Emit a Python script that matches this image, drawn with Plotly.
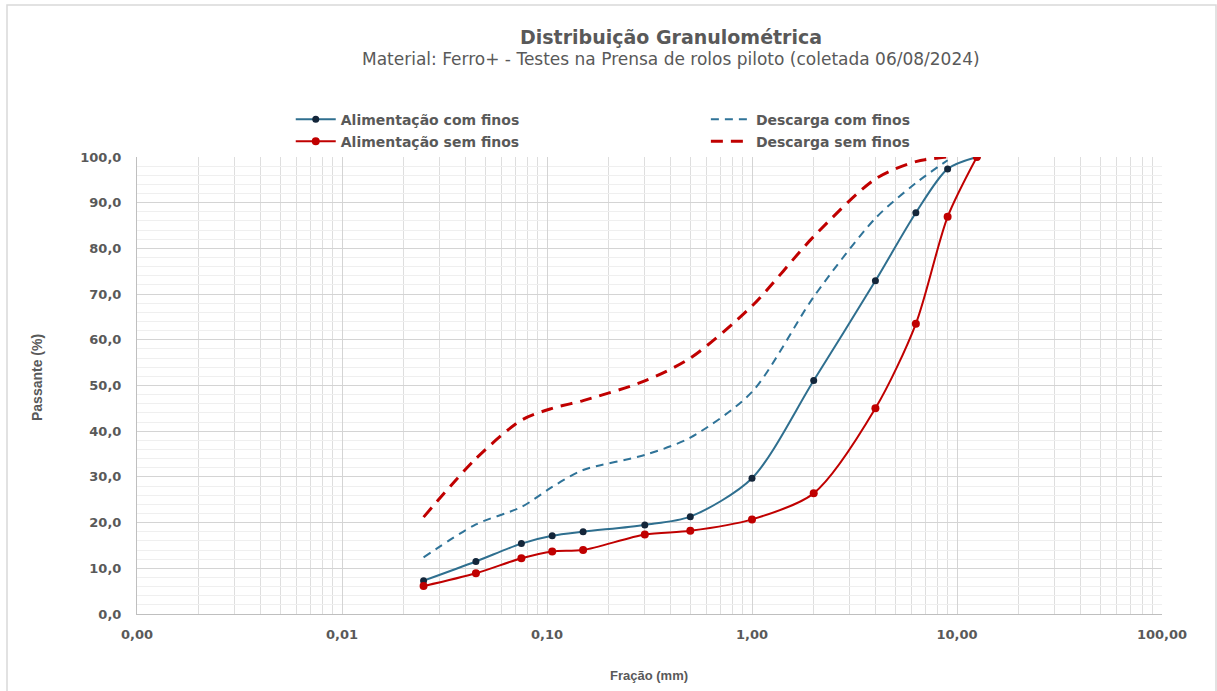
import plotly.graph_objects as go

# Sieve sizes (mm)
sizes = [0.025, 0.045, 0.075, 0.106, 0.150, 0.300, 0.500, 1.0, 2.0, 4.0, 6.3, 9.0, 12.5]
sizes_desc = [0.025, 0.045, 0.075, 0.106, 0.150, 0.300, 0.500, 1.0, 2.0, 4.0, 6.3, 9.0]

alim_com = [7.3, 11.5, 15.4, 17.1, 18.0, 19.5, 21.3, 29.7, 51.1, 72.9, 87.8, 97.4, 100.0]
alim_sem = [6.1, 8.9, 12.2, 13.7, 14.0, 17.4, 18.2, 20.7, 26.4, 45.0, 63.5, 86.9, 100.0]
desc_com = [12.4, 19.6, 23.4, 27.8, 31.5, 34.8, 38.6, 48.6, 69.4, 86.6, 94.3, 99.3]
desc_sem = [21.2, 34.0, 42.4, 45.0, 46.7, 51.0, 56.0, 67.4, 82.6, 95.2, 99.0, 100.0]

x_tickvals = [0.001, 0.01, 0.1, 1, 10, 100]
x_ticktext = ["0,00", "0,01", "0,10", "1,00", "10,00", "100,00"]
y_tickvals = [0, 10, 20, 30, 40, 50, 60, 70, 80, 90, 100]
y_ticktext = ["0,0", "10,0", "20,0", "30,0", "40,0", "50,0", "60,0", "70,0", "80,0", "90,0", "100,0"]

x_minor = [m * d for d in [0.001, 0.01, 0.1, 1, 10] for m in range(2, 10)]

FONT = "DejaVu Sans, Liberation Sans, sans-serif"
FONT_AR = "Liberation Sans, Arial, sans-serif"
GRAY = "#595959"

fig = go.Figure()
fig.add_trace(go.Scatter(
    x=sizes, y=alim_com, name="Alimentação com finos", mode="lines+markers",
    line=dict(color="#2f6f8f", width=2, shape="spline", smoothing=0.8),
    marker=dict(color="#14263a", size=7), legend="legend", legendgroup="a"))
fig.add_trace(go.Scatter(
    x=sizes, y=alim_sem, name="Alimentação sem finos", mode="lines+markers",
    line=dict(color="#c00000", width=2, shape="spline", smoothing=0.8),
    marker=dict(color="#c00000", size=8), legend="legend", legendgroup="b"))
fig.add_trace(go.Scatter(
    x=sizes_desc, y=desc_com, name="Descarga com finos", mode="lines",
    line=dict(color="#2f7398", width=2, dash="8px,6px", shape="spline", smoothing=0.8),
    legend="legend2", legendgroup="c"))
fig.add_trace(go.Scatter(
    x=sizes_desc, y=desc_sem, name="Descarga sem finos", mode="lines",
    line=dict(color="#c00000", width=3, dash="12px,8px", shape="spline", smoothing=0.8),
    legend="legend2", legendgroup="d"))

legend_common = dict(
    orientation="v", yanchor="top", xanchor="left",
    font=dict(family=FONT, size=14, color=GRAY, weight="bold"),
    bgcolor="rgba(0,0,0,0)", tracegroupgap=1, itemwidth=40,
)

fig.update_layout(
    width=1217, height=691,
    margin=dict(l=137, r=55, t=157, b=77),
    paper_bgcolor="white", plot_bgcolor="white",
    font=dict(family=FONT, color=GRAY),
    showlegend=True,
    legend=dict(x=0.150, y=1.117, **legend_common),
    legend2=dict(x=0.555, y=1.117, **legend_common),
    xaxis=dict(
        type="log", range=[-3, 2],
        tickvals=x_tickvals, ticktext=x_ticktext,
        tickfont=dict(family=FONT, size=13, color=GRAY, weight="bold"),
        showgrid=True, gridcolor="#d4d4d4", gridwidth=1,
        showline=True, linecolor="#bfbfbf", linewidth=1,
        ticks="", ticklabelstandoff=8,
        minor=dict(tickvals=x_minor, showgrid=True, gridcolor="#dedede", gridwidth=1, ticks=""),
        zeroline=False,
    ),
    yaxis=dict(
        range=[0, 100],
        tickvals=y_tickvals, ticktext=y_ticktext,
        tickfont=dict(family=FONT, size=13, color=GRAY, weight="bold"),
        showgrid=True, gridcolor="#d4d4d4", gridwidth=1,
        showline=True, linecolor="#bfbfbf", linewidth=1,
        ticks="", ticklabelstandoff=12,
        minor=dict(dtick=2, showgrid=True, gridcolor="#efefef", gridwidth=1, ticks=""),
        zeroline=False,
    ),
    annotations=[
        dict(text="Distribuição Granulométrica", x=0.521, y=1.2626, xref="paper", yref="paper",
             showarrow=False, xanchor="center", yanchor="middle",
             font=dict(family=FONT, size=19, color=GRAY, weight="bold")),
        dict(text="Material: Ferro+ - Testes na Prensa de rolos piloto (coletada 06/08/2024)",
             x=0.521, y=1.2144, xref="paper", yref="paper",
             showarrow=False, xanchor="center", yanchor="middle",
             font=dict(family=FONT, size=17, color=GRAY)),
        dict(text="Passante (%)", x=(37 - 137) / 1025, y=(614 - 378) / 457, xref="paper", yref="paper",
             showarrow=False, textangle=-90, xanchor="center", yanchor="middle",
             font=dict(family=FONT_AR, size=14, color=GRAY, weight="bold")),
        dict(text="Fração (mm)", x=(649 - 137) / 1025, y=(614 - 675) / 457, xref="paper", yref="paper",
             showarrow=False, xanchor="center", yanchor="middle",
             font=dict(family=FONT_AR, size=13, color=GRAY, weight="bold")),
    ],
    shapes=[
        dict(type="rect", xref="paper", yref="paper",
             x0=(7 - 137) / 1025, x1=(1216 - 137) / 1025,
             y0=(614 - 700) / 457, y1=(614 - 5) / 457,
             line=dict(color="#d9d9d9", width=1.5), fillcolor="rgba(0,0,0,0)", layer="below"),
    ],
)

fig.write_html("out.html")
